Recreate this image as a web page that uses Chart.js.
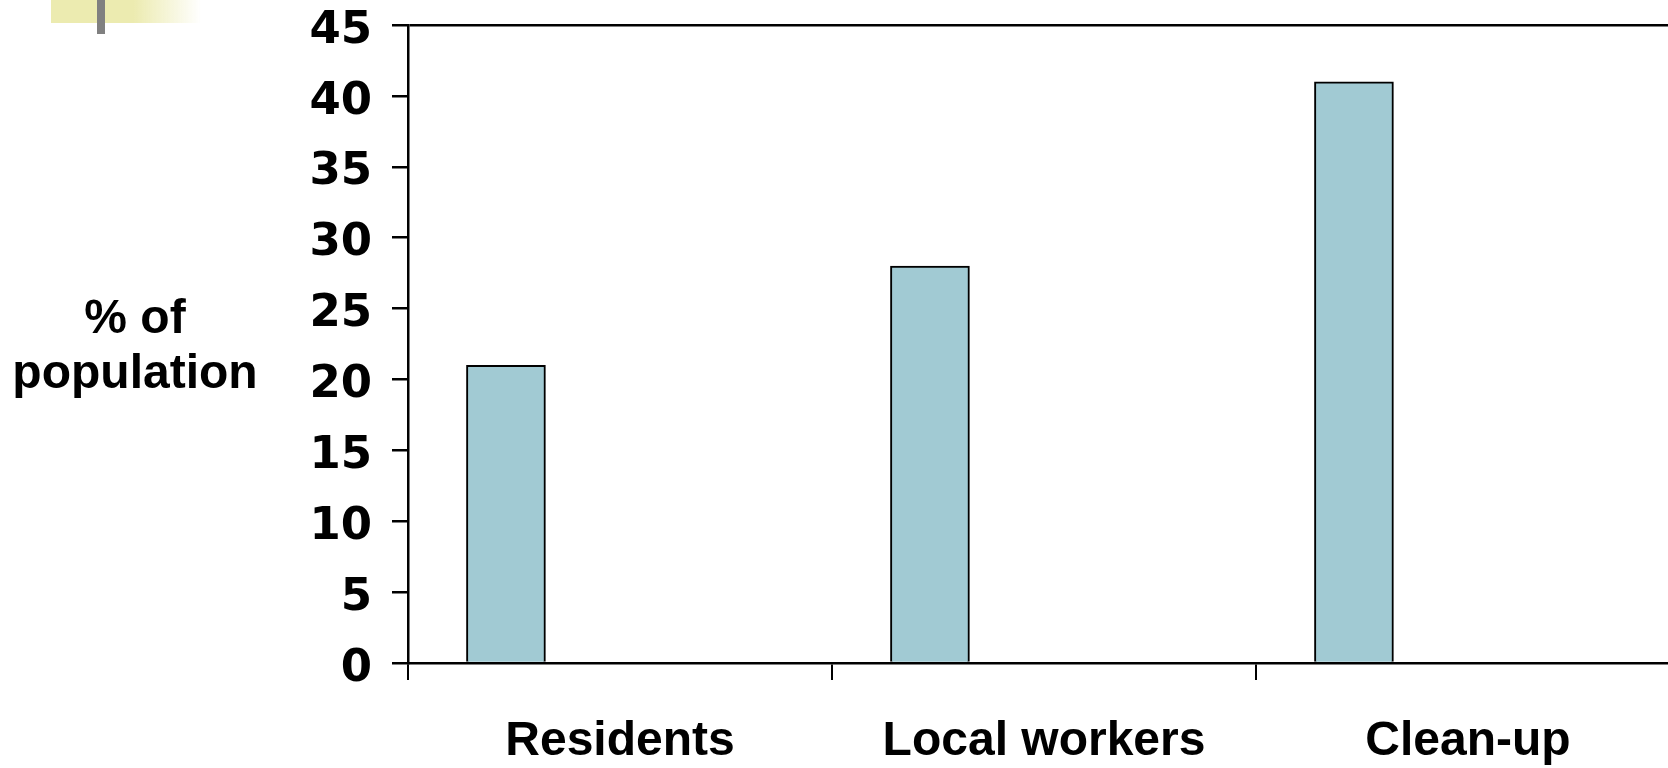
<!DOCTYPE html>
<html>
<head>
<meta charset="utf-8">
<title>% of population by group</title>
<script src="https://cdn.jsdelivr.net/npm/chart.js@4/dist/chart.umd.min.js"></script>
<style>
  html, body { margin: 0; padding: 0; background: #ffffff; overflow: hidden; width: 1668px; height: 768px; }
  #wrap { position: absolute; left: 0; top: 0; width: 1682px; height: 768px; }
  .band { position: absolute; left: 51px; top: 0; width: 150px; height: 23px;
          background: linear-gradient(to right, #ecebb0 0%, #ecebb0 55%, rgba(236,235,176,0) 100%); }
  .stem { position: absolute; left: 97px; top: 0; width: 8px; height: 34px; background: #808080; }
</style>
</head>
<body>
<div id="wrap"><canvas id="chart"></canvas></div>
<div class="band"></div>
<div class="stem"></div>
<script>
// Groups and the share of each group (%)
const categories = ['Residents', 'Local workers', 'Clean-up'];
const shareOfPopulation = [21, 28, 41];
const yTickValues = [0, 5, 10, 15, 20, 25, 30, 35, 40, 45];
const yTitleLines = ['% of', 'population'];

const LABEL_FONT = 'bold 48px "Liberation Sans", Arial, sans-serif';

// Horizontal, two-line axis title left of the value ticks
const yTitlePlugin = {
  id: 'yTitle',
  afterDraw(chart) {
    const ctx = chart.ctx;
    ctx.save();
    ctx.font = LABEL_FONT;
    ctx.fillStyle = '#000000';
    ctx.textAlign = 'center';
    ctx.textBaseline = 'alphabetic';
    yTitleLines.forEach((line, i) => ctx.fillText(line, 135, 333 + i * 55));
    ctx.restore();
  }
};

new Chart(document.getElementById('chart'), {
  type: 'bar',
  data: {
    labels: categories,
    datasets: [{
      label: '% of population',
      data: shareOfPopulation.map((v, i) => ({ x: i, y: v })),
      xAxisID: 'xb',
      backgroundColor: '#a1cad3',
      borderColor: '#000000',
      borderWidth: 2,
      barThickness: 79
    }]
  },
  options: {
    responsive: true,
    maintainAspectRatio: false,
    animation: false,
    layout: { padding: { top: 25, right: 2, left: 0, bottom: 0 } },
    plugins: { legend: { display: false }, tooltip: { enabled: false } },
    scales: {
      x: {
        type: 'category',
        offset: true,
        grid: { offset: true, color: 'rgba(0,0,0,0)', tickColor: '#000000', tickLength: 17, lineWidth: 2, drawOnChartArea: false },
        border: { display: true, color: '#000000', width: 2.5 },
        ticks: { color: '#000000', font: { family: '"Liberation Sans", Arial, sans-serif', size: 48, weight: 'bold' }, padding: 33, maxRotation: 0 },
        afterFit(scale) { scale.height = 105; }
      },
      // bar positions within each category band (bars sit left of the band centre)
      xb: {
        type: 'linear',
        display: false,
        offset: false,
        min: -0.231,
        max: 2.769
      },
      y: {
        min: 0,
        max: 45,
        afterBuildTicks(scale) { scale.ticks = yTickValues.map(v => ({ value: v })); },
        grid: {
          color: c => (c.tick && c.tick.value === 45 ? '#000000' : 'rgba(0,0,0,0)'),
          tickColor: '#000000',
          tickLength: 16,
          lineWidth: 2.5
        },
        border: { display: true, color: '#000000', width: 2.5 },
        ticks: {
          color: '#000000',
          font: { family: '"DejaVu Sans", sans-serif', size: 45, weight: 'bold', lineHeight: '12px' },
          padding: 20,
          // blank lead line drops each number a little below its tick mark
          callback: v => ['', String(v)]
        },
        afterFit(scale) { scale.width = 408; scale.paddingTop = 0; scale.paddingBottom = 0; }
      }
    }
  },
  plugins: [yTitlePlugin]
});
</script>
</body>
</html>
